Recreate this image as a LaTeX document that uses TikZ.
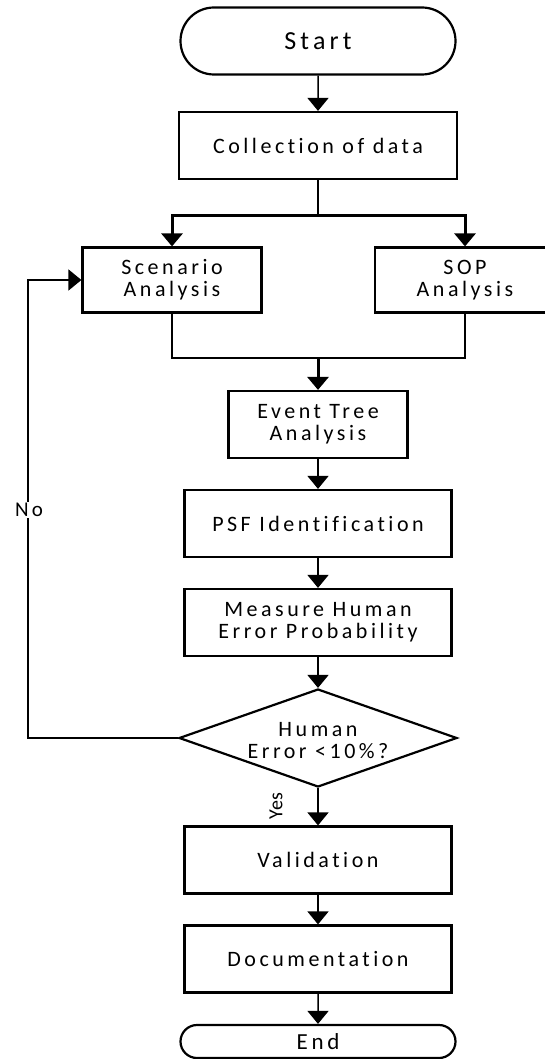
\documentclass[tikz,border=0pt]{standalone}
\usepackage{fontspec}
\setmainfont{Carlito}[LetterSpace=16,Ligatures=NoCommon]
\usetikzlibrary{arrows.meta,shapes.geometric,shapes.misc}

\begin{document}
\begin{tikzpicture}[x=1pt,y=-1pt,
    box/.style={draw,line width=2.2pt,minimum width=267pt,minimum height=67pt,align=center,inner sep=2pt,font=\fontsize{22}{22}\selectfont},
    term/.style={draw,rounded rectangle,line width=2.2pt,minimum width=279pt,inner sep=2pt},
    flow/.style={line width=1.5pt,-{Triangle[width=21pt,length=13pt]}},
    bigflow/.style={line width=3pt,-{Triangle[width=21pt,length=13pt]}},
    link/.style={line width=2.2pt}]
    \useasboundingbox (0,0) rectangle (545,1059);

    \node[term,minimum height=67pt,font=\fontsize{26}{28}\selectfont] (start) at (318,41) {Start};
    \node[box,minimum width=278pt] (data) at (318,145.5) {Collection of data};
    \node[box,minimum width=179pt,minimum height=65pt] (scen) at (172,280) {Scenario\\Analysis};
    \node[box,minimum width=180pt,minimum height=65pt] (sop) at (465,280) {SOP\\Analysis};
    \node[box,minimum width=179pt] (event) at (318,424.5) {Event Tree\\Analysis};
    \node[box] (psf) at (318,523.5) {PSF Identification};
    \node[box] (hep) at (318,622.5) {Measure Human\\Error Probability};
    \node[draw,diamond,line width=2.2pt,minimum width=278pt,minimum height=98pt,inner sep=0pt] (check) at (318,738) {};
    \node[align=center,font=\fontsize{22}{22}\selectfont] (checktext) at (318,741) {Human\\Error <10\%?};
    \node[box] (valid) at (318,860) {Validation};
    \node[box] (doc) at (318,959) {Documentation};
    \node[term,minimum height=33pt,font=\fontsize{23}{24}\selectfont] (end) at (318,1041.5) {End};

    \coordinate (join) at (318,358);
    \coordinate (back) at (28,738);

    \draw[flow] (start) -- (data);
    \draw[link] (data.south) -- ++(0,35) coordinate (split);
    \draw[bigflow] (split) -| (scen.north);
    \draw[bigflow] (split) -| (sop.north);
    \draw[link] (scen.south) |- (join) -| (sop.south);
    \draw[bigflow] (join) -- (event);
    \draw[flow] (event) -- (psf);
    \draw[flow] (psf) -- (hep);
    \draw[flow] (hep) -- (check);
    \draw[flow] (check) -- (valid);
    \draw[flow] (valid) -- (doc);
    \draw[flow] (doc) -- (end);
    \draw[flow] (check.west) -- (back) |- (scen.west);
    \node[fill=white,inner sep=1pt,font=\fontsize{21}{21}\selectfont] (no) at (29,510) {No};
    \node[rotate=90,inner sep=0pt,font=\fontsize{20}{20}\selectfont\addfontfeature{LetterSpace=0}] (yes) at (276,806) {Yes};
\end{tikzpicture}
\end{document}
